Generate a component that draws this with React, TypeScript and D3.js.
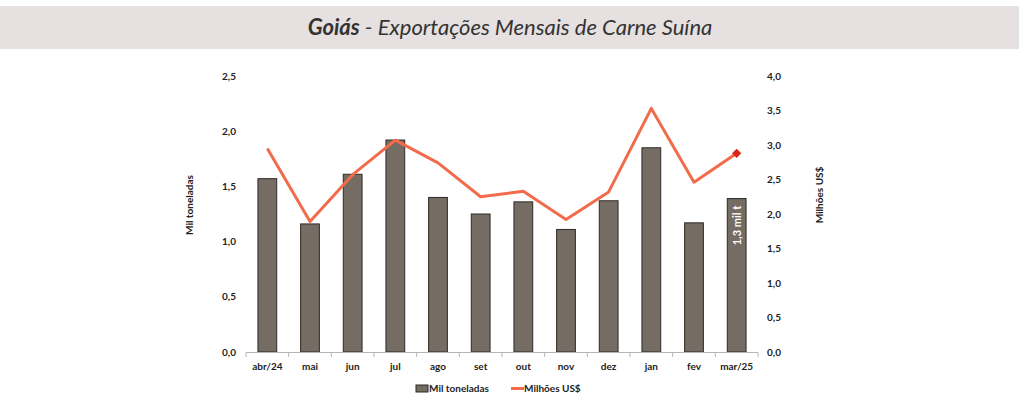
import * as d3 from "d3";

const months = ["abr/24", "mai", "jun", "jul", "ago", "set", "out", "nov", "dez", "jan", "fev", "mar/25"];
const tonnes = [1.57, 1.16, 1.61, 1.92, 1.4, 1.25, 1.36, 1.11, 1.37, 1.85, 1.17, 1.39];
const usd = [2.95, 1.89, 2.57, 3.07, 2.74, 2.25, 2.33, 1.92, 2.32, 3.53, 2.46, 2.88];
const leftTicks = [0, 0.5, 1, 1.5, 2, 2.5];
const rightTicks = [0, 0.5, 1, 1.5, 2, 2.5, 3, 3.5, 4];
const lastLabel = "1,3 mil t";

const W = 1024;
const H = 399;
const FONT = "Lato, 'Open Sans', sans-serif";
const fmt = (v: number) => v.toFixed(1).replace(".", ",");

export default function App() {
  const x = d3.scaleBand<string>().domain(months).range([246, 758]).paddingInner(0.56).paddingOuter(0.28);
  const band = d3.scaleBand<string>().domain(months).range([246, 758]);
  const yL = d3.scaleLinear().domain([0, 2.5]).range([352, 76]);
  const yR = d3.scaleLinear().domain([0, 4]).range([352, 76]);

  const line = d3
    .line<number>()
    .x((_, i) => band(months[i])! + band.bandwidth() / 2)
    .y((d) => yR(d));

  const lastX = band(months[months.length - 1])! + band.bandwidth() / 2;
  const lastY = yR(usd[usd.length - 1]);

  return (
    <svg width={W} height={H} style={{ position: "absolute", left: 0, top: 0, background: "#fff" }}>
      {/* faixa do título */}
      <rect x={0} y={6} width={1019} height={43} fill="#e6e0e0" />
      <text x={510} y={35} textAnchor="middle" fontFamily={FONT} fontStyle="italic" fontSize={22} fill="#333">
        <tspan fontWeight="bold">Goiás</tspan>
        <tspan> - Exportações Mensais de Carne Suína</tspan>
      </text>

      {/* barras */}
      {tonnes.map((v, i) => (
        <rect
          key={i}
          x={x(months[i])}
          y={yL(v)}
          width={x.bandwidth()}
          height={352 - yL(v)}
          fill="#756c64"
          stroke="#2e2a27"
          strokeWidth={1}
        />
      ))}

      {/* rótulo da última barra */}
      <text
        transform={`translate(${lastX + 4},${yL(tonnes[tonnes.length - 1]) + 27}) rotate(-90)`}
        textAnchor="middle"
        fontFamily={FONT}
        fontSize={11}
        fontWeight="bold"
        fill="#fff"
      >
        {lastLabel}
      </text>

      {/* linha */}
      <path d={line(usd) ?? undefined} fill="none" stroke="#f26b4b" strokeWidth={3} strokeLinejoin="round" />
      <path
        d={d3.symbol().type(d3.symbolDiamond2).size(55)() ?? undefined}
        transform={`translate(${lastX},${lastY})`}
        fill="#d9261c"
      />

      {/* eixo x */}
      <line x1={246} x2={758} y1={352.5} y2={352.5} stroke="#b5b5b5" />
      {[...months.map((m) => band(m)!), 758].map((t, i) => (
        <line key={i} x1={t} x2={t} y1={352.5} y2={357} stroke="#b5b5b5" />
      ))}
      {months.map((m) => (
        <text
          key={m}
          x={band(m)! + band.bandwidth() / 2}
          y={370}
          textAnchor="middle"
          fontFamily={FONT}
          fontSize={10}
          fontWeight="bold"
          fill="#222"
        >
          {m}
        </text>
      ))}

      {/* eixo esquerdo */}
      {leftTicks.map((t) => (
        <text key={t} x={236} y={yL(t) + 3.5} textAnchor="end" fontFamily={FONT} fontSize={10} fontWeight="bold" fill="#222">
          {fmt(t)}
        </text>
      ))}
      <text
        transform="translate(193,205) rotate(-90)"
        textAnchor="middle"
        fontFamily={FONT}
        fontSize={10}
        fontWeight="bold"
        fill="#222"
      >
        Mil toneladas
      </text>

      {/* eixo direito */}
      {rightTicks.map((t) => (
        <text key={t} x={767} y={yR(t) + 3.5} textAnchor="start" fontFamily={FONT} fontSize={10} fontWeight="bold" fill="#222">
          {fmt(t)}
        </text>
      ))}
      <text
        transform="translate(823,195) rotate(-90)"
        textAnchor="middle"
        fontFamily={FONT}
        fontSize={10}
        fontWeight="bold"
        fill="#222"
      >
        Milhões US$
      </text>

      {/* legenda */}
      <rect x={416} y={385} width={12} height={7} fill="#756c64" stroke="#2e2a27" />
      <text x={429} y={392} fontFamily={FONT} fontSize={10} fontWeight="bold" fill="#222">
        Mil toneladas
      </text>
      <line x1={511} x2={524} y1={388.5} y2={388.5} stroke="#f26b4b" strokeWidth={3} />
      <text x={524} y={392} fontFamily={FONT} fontSize={10} fontWeight="bold" fill="#222">
        Milhões US$
      </text>
    </svg>
  );
}
